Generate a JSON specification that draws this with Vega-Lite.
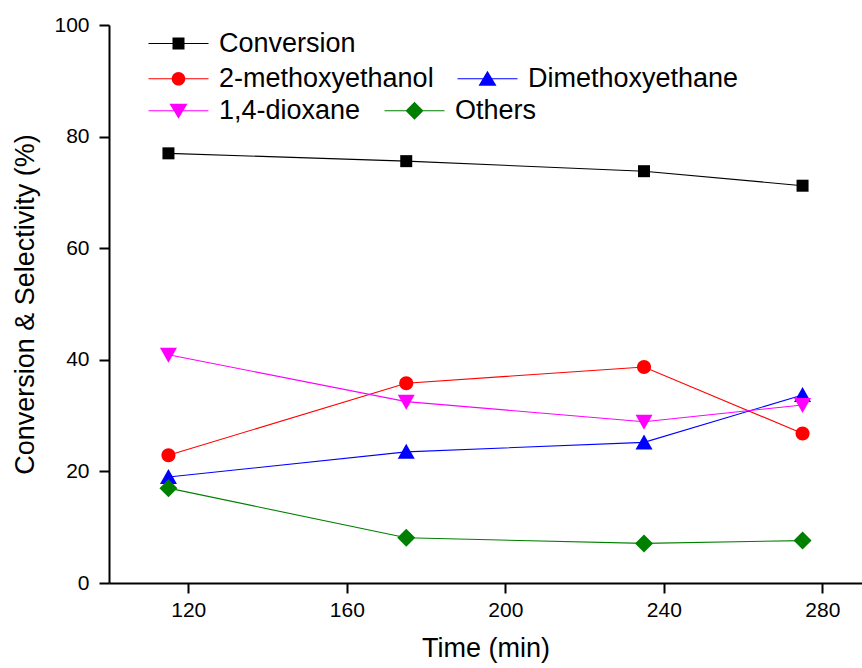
{
  "$schema": "https://vega.github.io/schema/vega-lite/v6.json",
  "width": 753,
  "height": 558,
  "autosize": "none",
  "padding": {"left": 109, "top": 25, "right": 0, "bottom": 85},
  "background": "white",
  "config": {
    "view": {"stroke": null},
    "font": "Liberation Sans",
    "axis": {
      "grid": false,
      "domainColor": "black",
      "domainWidth": 2,
      "tickColor": "black",
      "tickWidth": 2,
      "tickSize": 10,
      "labelColor": "black",
      "labelFont": "Liberation Sans",
      "labelFontSize": 21,
      "titleFont": "Liberation Sans",
      "titleFontWeight": "normal",
      "titleColor": "black",
      "titleFontSize": 27
    },
    "legend": {
      "labelFont": "Liberation Sans",
      "labelFontSize": 27,
      "labelColor": "black",
      "labelLimit": 0,
      "symbolSize": 4,
      "symbolStrokeWidth": 0,
      "symbolOpacity": 1,
      "labelOffset": 57,
      "padding": 0,
      "rowPadding": 7,
      "columnPadding": 10,
      "orient": "none",
      "direction": "horizontal"
    }
  },
  "data": {
    "values": [
      {"series": "Conversion", "time": 115, "value": 77.0},
      {"series": "Conversion", "time": 175, "value": 75.6},
      {"series": "Conversion", "time": 235, "value": 73.8},
      {"series": "Conversion", "time": 275, "value": 71.2},
      {"series": "2-methoxyethanol", "time": 115, "value": 22.9},
      {"series": "2-methoxyethanol", "time": 175, "value": 35.8},
      {"series": "2-methoxyethanol", "time": 235, "value": 38.7},
      {"series": "2-methoxyethanol", "time": 275, "value": 26.8},
      {"series": "Dimethoxyethane", "time": 115, "value": 19.0},
      {"series": "Dimethoxyethane", "time": 175, "value": 23.5},
      {"series": "Dimethoxyethane", "time": 235, "value": 25.2},
      {"series": "Dimethoxyethane", "time": 275, "value": 33.7},
      {"series": "1,4-dioxane", "time": 115, "value": 40.9},
      {"series": "1,4-dioxane", "time": 175, "value": 32.5},
      {"series": "1,4-dioxane", "time": 235, "value": 28.9},
      {"series": "1,4-dioxane", "time": 275, "value": 31.9},
      {"series": "Others", "time": 115, "value": 17.0},
      {"series": "Others", "time": 175, "value": 8.1},
      {"series": "Others", "time": 235, "value": 7.1},
      {"series": "Others", "time": 275, "value": 7.6}
    ]
  },
  "encoding": {
    "x": {
      "field": "time",
      "type": "quantitative",
      "scale": {"domain": [100, 290], "nice": false, "zero": false},
      "axis": {"values": [120, 160, 200, 240, 280], "title": "Time (min)", "labelPadding": 6, "titlePadding": 15}
    },
    "y": {
      "field": "value",
      "type": "quantitative",
      "scale": {"domain": [0, 100], "nice": false},
      "axis": {"values": [0, 20, 40, 60, 80, 100], "title": "Conversion & Selectivity (%)", "labelPadding": 10, "titlePadding": 14}
    }
  },
  "layer": [
    {
      "layer": [
        {
          "mark": {"type": "line", "strokeWidth": 1.1},
          "encoding": {
            "color": {
              "field": "series", "type": "nominal",
              "scale": {"domain": ["Conversion", "2-methoxyethanol", "Dimethoxyethane", "1,4-dioxane", "Others"], "range": ["black", "#ff0000", "#0000ff", "#ff00ff", "#008000"]},
              "legend": null
            }
          }
        },
        {
          "mark": {"type": "point", "filled": true, "opacity": 1, "size": 4},
          "encoding": {
            "color": {
              "field": "series", "type": "nominal",
              "scale": {"domain": ["Conversion", "2-methoxyethanol", "Dimethoxyethane", "1,4-dioxane", "Others"], "range": ["black", "#ff0000", "#0000ff", "#ff00ff", "#008000"]},
              "legend": null
            },
            "shape": {
              "field": "series", "type": "nominal",
              "scale": {"domain": ["Conversion", "2-methoxyethanol", "Dimethoxyethane", "1,4-dioxane", "Others"], "range": ["M-6,-6H6V6H-6Z", "M-7,0A7,7 0 1,1 7,0A7,7 0 1,1 -7,0Z", "M0,-8L8.5,7H-8.5Z", "M0,8L-8.5,-7H8.5Z", "M0,-9L9,0L0,9L-9,0Z"]},
              "legend": null
            }
          }
        }
      ]
    },
    {
      "transform": [{"filter": "false"}],
      "mark": {"type": "point", "filled": true},
      "encoding": {
        "color": {
          "field": "series", "type": "nominal",
          "scale": {"domain": ["Conversion"], "range": ["black"]},
          "legend": {"title": null, "legendX": 26, "legendY": 5}
        },
        "shape": {
          "field": "series", "type": "nominal",
          "scale": {"domain": ["Conversion"], "range": ["M0,-0.6H60V0.6H0Z M24,-6H36V6H24Z"]},
          "legend": {"title": null, "legendX": 26, "legendY": 5}
        }
      }
    },
    {
      "transform": [{"filter": "false"}],
      "mark": {"type": "point", "filled": true},
      "encoding": {
        "color": {
          "field": "series", "type": "nominal",
          "scale": {"domain": ["2-methoxyethanol", "Dimethoxyethane"], "range": ["#ff0000", "#0000ff"]},
          "legend": {"title": null, "legendX": 26, "legendY": 40}
        },
        "shape": {
          "field": "series", "type": "nominal",
          "scale": {"domain": ["2-methoxyethanol", "Dimethoxyethane"], "range": ["M0,-0.6H60V0.6H0Z M23.2,0A6.8,6.8 0 1,1 36.8,0A6.8,6.8 0 1,1 23.2,0Z", "M0,-0.6H60V0.6H0Z M30,-8L39,7H21Z"]},
          "legend": {"title": null, "legendX": 26, "legendY": 40}
        }
      }
    },
    {
      "transform": [{"filter": "false"}],
      "mark": {"type": "point", "filled": true},
      "encoding": {
        "color": {
          "field": "series", "type": "nominal",
          "scale": {"domain": ["1,4-dioxane", "Others"], "range": ["#ff00ff", "#008000"]},
          "legend": {"title": null, "legendX": 26, "legendY": 72}
        },
        "shape": {
          "field": "series", "type": "nominal",
          "scale": {"domain": ["1,4-dioxane", "Others"], "range": ["M0,-0.6H60V0.6H0Z M30,8L21,-7H39Z", "M0,-0.6H60V0.6H0Z M30,-9L39,0L30,9L21,0Z"]},
          "legend": {"title": null, "legendX": 26, "legendY": 72}
        }
      }
    }
  ],
  "resolve": {"scale": {"color": "independent", "shape": "independent"}}
}
